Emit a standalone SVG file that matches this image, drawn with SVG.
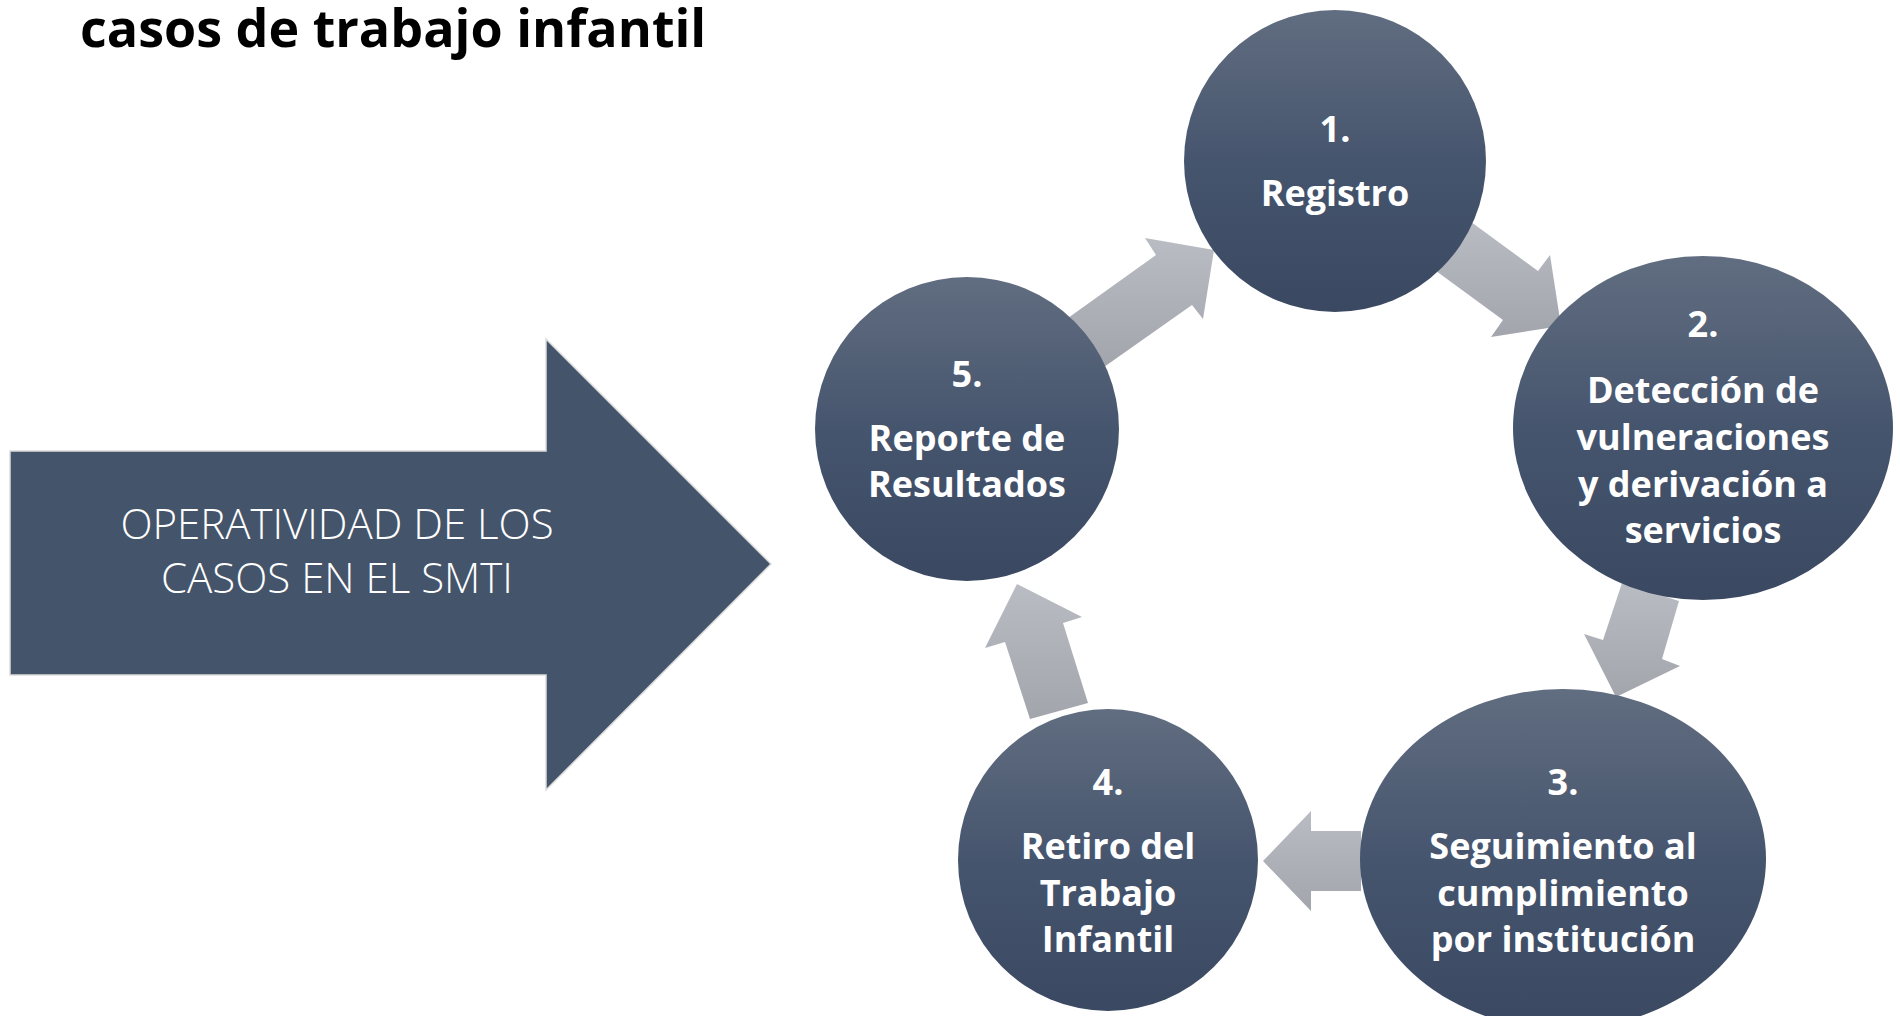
<svg xmlns="http://www.w3.org/2000/svg" width="1900" height="1016" viewBox="0 0 1900 1016">
  <defs>
    <linearGradient id="gCircle" x1="0" y1="0" x2="0" y2="1">
      <stop offset="0" stop-color="#616d80"/>
      <stop offset="0.5" stop-color="#46556e"/>
      <stop offset="1" stop-color="#3a4861"/>
    </linearGradient>
    <linearGradient id="gArrow" x1="0" y1="0" x2="0" y2="1">
      <stop offset="0" stop-color="#b9bcc3"/>
      <stop offset="1" stop-color="#a2a5ac"/>
    </linearGradient>
  </defs>
  <style>
    .title { font-family: "Open Sans", "Liberation Sans", sans-serif; font-weight: 700; font-size: 52px; fill: #000000; }
    .big { fill: #44546a; stroke: #dcdcdc; stroke-width: 1.5; }
    .bigtxt { font-family: "Open Sans", "Liberation Sans", sans-serif; font-weight: 300; font-size: 42px; fill: #ffffff; text-anchor: middle; }
    .node { fill: url(#gCircle); }
    .ntxt { font-family: "Open Sans", "Liberation Sans", sans-serif; font-weight: 700; font-size: 36px; fill: #ffffff; text-anchor: middle; }
    .conn { fill: url(#gArrow); }
  </style>
  <rect width="1900" height="1016" fill="#ffffff"/>

  <text class="title" x="80" y="47">casos de trabajo infantil</text>

  <g id="operatividad">
    <polygon class="big" points="10,451 546,451 546,339 771,564 546,790 546,675 10,675"/>
    <text class="bigtxt" x="337" y="539">OPERATIVIDAD DE LOS</text>
    <text class="bigtxt" x="337" y="593">CASOS EN EL SMTI</text>
  </g>

  <g id="connectors">
    <polygon class="conn" points="1467,219 1538,271 1550,255 1561,326 1491,337 1503,320 1432,268"/>
    <polygon class="conn" points="1622,583 1679,601 1662,659 1680,666 1616,697 1584,634 1603,640"/>
    <polygon class="conn" points="1361,831 1311,831 1311,811 1263,861 1311,911 1311,891 1361,891"/>
    <polygon class="conn" points="1030,719 1005,642 985,648 1017,584 1082,617 1063,623 1088,703"/>
    <polygon class="conn" points="1068,318 1156,255 1145,238 1214,250 1203,319 1192,305 1104,367"/>
  </g>

  <g id="node1">
    <ellipse class="node" cx="1335" cy="161" rx="151" ry="151"/>
    <text class="ntxt" x="1335" y="142">1.</text>
    <text class="ntxt" x="1335" y="206">Registro</text>
  </g>

  <g id="node2">
    <ellipse class="node" cx="1703" cy="428" rx="190" ry="172"/>
    <text class="ntxt" x="1703" y="337">2.</text>
    <text class="ntxt" x="1703" y="403">Detección de</text>
    <text class="ntxt" x="1703" y="450">vulneraciones</text>
    <text class="ntxt" x="1703" y="497">y derivación a</text>
    <text class="ntxt" x="1703" y="543">servicios</text>
  </g>

  <g id="node3">
    <ellipse class="node" cx="1563" cy="859" rx="203" ry="170"/>
    <text class="ntxt" x="1563" y="795">3.</text>
    <text class="ntxt" x="1563" y="859">Seguimiento al</text>
    <text class="ntxt" x="1563" y="906">cumplimiento</text>
    <text class="ntxt" x="1563" y="952">por institución</text>
  </g>

  <g id="node4">
    <ellipse class="node" cx="1108" cy="860" rx="150" ry="151"/>
    <text class="ntxt" x="1108" y="795">4.</text>
    <text class="ntxt" x="1108" y="859">Retiro del</text>
    <text class="ntxt" x="1108" y="906">Trabajo</text>
    <text class="ntxt" x="1108" y="952">Infantil</text>
  </g>

  <g id="node5">
    <ellipse class="node" cx="967" cy="429" rx="152" ry="152"/>
    <text class="ntxt" x="967" y="387">5.</text>
    <text class="ntxt" x="967" y="451">Reporte de</text>
    <text class="ntxt" x="967" y="497">Resultados</text>
  </g>
</svg>
